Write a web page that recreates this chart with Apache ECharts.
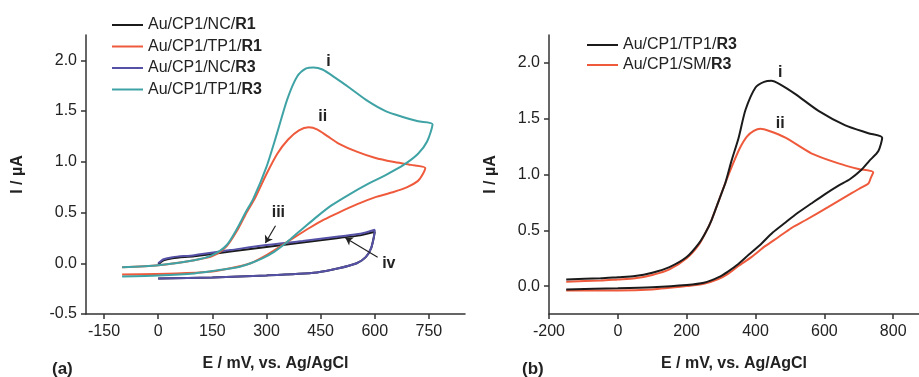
<!DOCTYPE html>
<html>
<head>
<meta charset="utf-8">
<script src="https://cdn.jsdelivr.net/npm/echarts@6/dist/echarts.min.js"></script>
<style>
  html, body { margin: 0; padding: 0; background: #fff; }
  #chart { width: 919px; height: 377px; }
</style>
</head>
<body>
<div id="chart"></div>
<script>
// ---- panel (a) ----
var aLegend = ['Au/CP1/NC/R1', 'Au/CP1/TP1/R1', 'Au/CP1/NC/R3', 'Au/CP1/TP1/R3'];
var aXTicks = [-150, 0, 150, 300, 450, 600, 750];
var aYTicks = [-0.5, 0, 0.5, 1.0, 1.5, 2.0];

// Au/CP1/NC/R1 (iii)
var ncR1E = [0, 15, 40, 100, 200, 300, 400, 500, 560, 600, 597, 590, 575, 550, 500, 440, 300, 150, 0];
var ncR1I = [-0.01, 0.03, 0.05, 0.07, 0.115, 0.16, 0.205, 0.25, 0.275, 0.31, 0.25, 0.15, 0.06, 0.0, -0.05, -0.09, -0.12, -0.14, -0.15];
// Au/CP1/TP1/R1 (ii)
var tpR1E = [-100, 0, 100, 150, 190, 220, 245, 268, 300, 330, 360, 390, 417, 440, 470, 500, 550, 600, 650, 700, 740,
             730, 719, 690, 650, 600, 550, 500, 459, 420, 375, 340, 300, 256, 200, 150, 50, -100];
var tpR1I = [-0.04, -0.02, 0.03, 0.07, 0.17, 0.33, 0.50, 0.64, 0.88, 1.08, 1.22, 1.31, 1.34, 1.32, 1.25, 1.18, 1.10, 1.04, 1.00, 0.97, 0.94,
             0.86, 0.81, 0.75, 0.70, 0.65, 0.58, 0.50, 0.43, 0.35, 0.25, 0.17, 0.08, 0.0, -0.05, -0.08, -0.10, -0.11];
// Au/CP1/NC/R3 (iv)
var ncR3E = [0, 15, 40, 100, 200, 300, 400, 500, 560, 600, 597, 590, 575, 550, 500, 440, 300, 150, 0];
var ncR3I = [0.0, 0.04, 0.06, 0.08, 0.13, 0.18, 0.22, 0.265, 0.29, 0.33, 0.25, 0.15, 0.06, 0.0, -0.05, -0.09, -0.12, -0.14, -0.15];
// Au/CP1/TP1/R3 (i)
var tpR3E = [-100, 0, 100, 150, 190, 220, 242, 264, 300, 330, 358, 385, 410, 430, 455, 490, 530, 580, 630, 680, 720, 760,
             745, 720, 680, 630, 580, 530, 480, 440, 400, 370, 347, 320, 290, 256, 220, 163, 100, 0, -100];
var tpR3I = [-0.04, -0.02, 0.03, 0.08, 0.18, 0.35, 0.50, 0.64, 0.95, 1.29, 1.62, 1.84, 1.92, 1.93, 1.91, 1.83, 1.73, 1.60, 1.50, 1.44, 1.40, 1.37,
             1.20, 1.08, 0.97, 0.87, 0.78, 0.68, 0.57, 0.46, 0.34, 0.25, 0.18, 0.11, 0.05, 0.0, -0.04, -0.07, -0.10, -0.12, -0.13];

// ---- panel (b) ----
var bLegend = ['Au/CP1/TP1/R3', 'Au/CP1/SM/R3'];
var bXTicks = [-200, 0, 200, 400, 600, 800];
var bYTicks = [0, 0.5, 1.0, 1.5, 2.0];

var bTpE = [-150, -50, 0, 50, 100, 150, 200, 235, 255, 272, 295, 313, 330, 351, 371, 400, 425, 446, 470, 516, 583, 661, 728, 768,
            757, 730, 707, 675, 641, 600, 562, 520, 487, 450, 417, 380, 351, 320, 293, 250, 200, 100, 0, -150];
var bTpI = [0.06, 0.07, 0.08, 0.09, 0.12, 0.17, 0.26, 0.38, 0.48, 0.59, 0.78, 0.93, 1.12, 1.33, 1.58, 1.78, 1.83, 1.84, 1.81, 1.72, 1.57, 1.44, 1.37, 1.33,
            1.21, 1.12, 1.04, 0.96, 0.90, 0.82, 0.74, 0.65, 0.57, 0.48, 0.38, 0.28, 0.20, 0.13, 0.08, 0.03, 0.01, -0.01, -0.02, -0.03];
var bSmE = [-150, -50, 0, 50, 100, 150, 200, 235, 255, 272, 295, 313, 335, 355, 375, 395, 414, 440, 487, 562, 641, 699, 742,
            735, 728, 700, 678, 612, 545, 504, 467, 429, 388, 350, 320, 290, 250, 200, 100, 0, -150];
var bSmI = [0.04, 0.05, 0.06, 0.07, 0.10, 0.15, 0.25, 0.37, 0.48, 0.59, 0.78, 0.93, 1.10, 1.24, 1.34, 1.39, 1.41, 1.39, 1.33, 1.19, 1.10, 1.05, 1.02,
            0.97, 0.92, 0.87, 0.83, 0.71, 0.59, 0.52, 0.44, 0.36, 0.26, 0.18, 0.11, 0.06, 0.02, 0.0, -0.03, -0.04, -0.04];

var FONT = '"Liberation Sans", Arial, sans-serif';
var INK = '#222';
var FS = 16;

function pairs(xs, ys) {
    return xs.map(function(x, i) { return [x, ys[i]]; });
}

// legend text: regular prefix, bold last part (R1 / R3)
function legendText(name) {
    var label = name.split('|')[1];
    var cut = label.lastIndexOf('/') + 1;
    return '{n|' + label.slice(0, cut) + '}{b|' + label.slice(cut) + '}';
}

function curve(panel, label, color, xs, ys, extra) {
    var s = {
        type: 'line',
        name: panel + '|' + label,
        xAxisIndex: panel == 'a' ? 0 : 1,
        yAxisIndex: panel == 'a' ? 0 : 1,
        data: pairs(xs, ys),
        symbol: 'none',
        smooth: 0.25,
        lineStyle: { color: color, width: 2 },
        itemStyle: { color: color }
    };
    if (extra) { Object.assign(s, extra); }
    return s;
}

function tag(text, x, y) {
    return {
        coord: [x, y],
        symbol: 'circle',
        symbolSize: 1,
        itemStyle: { color: 'rgba(0,0,0,0)' },
        label: { show: true, position: 'inside', formatter: text, fontFamily: FONT, fontWeight: 'bold', fontSize: FS, color: INK }
    };
}

function arrow(x1, y1, x2, y2) {
    return [{ coord: [x1, y1], symbol: 'none' }, { coord: [x2, y2], symbol: 'arrow', symbolSize: 7 }];
}

function xAxis(idx, min, max, ticks) {
    return {
        type: 'value', gridIndex: idx, min: min, max: max,
        name: 'E / mV, vs. Ag/AgCl', nameLocation: 'middle', nameGap: 42,
        nameTextStyle: { fontFamily: FONT, fontWeight: 'bold', fontSize: FS, color: INK },
        axisLine: { onZero: false, lineStyle: { color: '#333', width: 1.5 } },
        axisTick: { length: 5, lineStyle: { color: '#333', width: 1.5 }, customValues: ticks },
        axisLabel: { customValues: ticks, fontFamily: FONT, fontSize: FS, color: INK, margin: 10 },
        splitLine: { show: false }
    };
}

function yAxis(idx, min, max, ticks, gap) {
    return {
        type: 'value', gridIndex: idx, min: min, max: max,
        name: 'I / µA', nameLocation: 'middle', nameGap: gap, nameRotate: 90,
        nameTextStyle: { fontFamily: FONT, fontWeight: 'bold', fontSize: FS, color: INK },
        axisLine: { show: true, onZero: false, lineStyle: { color: '#333', width: 1.5 } },
        axisTick: { show: true, length: 5, lineStyle: { color: '#333', width: 1.5 }, customValues: ticks },
        axisLabel: {
            customValues: ticks, fontFamily: FONT, fontSize: FS, color: INK, margin: 9,
            formatter: function(v) { return v.toFixed(1); }
        },
        splitLine: { show: false }
    };
}

var richText = {
    n: { fontFamily: FONT, fontSize: FS, color: INK },
    b: { fontFamily: FONT, fontSize: FS, color: INK, fontWeight: 'bold' }
};

var chart = echarts.init(document.getElementById('chart'));
chart.setOption({
    animation: false,
    backgroundColor: '#fff',
    grid: [
        { left: 86, top: 35, width: 379, height: 279 },
        { left: 549, top: 35, width: 370, height: 279 }
    ],
    xAxis: [xAxis(0, -200, 850, aXTicks), xAxis(1, -200, 875, bXTicks)],
    yAxis: [yAxis(0, -0.5, 2.25, aYTicks, 60), yAxis(1, -0.25, 2.25, bYTicks, 50)],
    legend: [
        {
            data: aLegend.map(function(n) { return 'a|' + n; }),
            orient: 'vertical', left: 112, top: 17, padding: 0, icon: 'rect', itemWidth: 31, itemHeight: 2, itemGap: 5.5,
            formatter: legendText, textStyle: { rich: richText }
        },
        {
            data: bLegend.map(function(n) { return 'b|' + n; }),
            orient: 'vertical', left: 587, top: 37, padding: 0, icon: 'rect', itemWidth: 31, itemHeight: 2, itemGap: 4,
            formatter: legendText, textStyle: { rich: richText }
        }
    ],
    series: [
        curve('a', aLegend[0], '#1b1b1b', ncR1E, ncR1I, {
            markLine: { silent: true, lineStyle: { color: '#222', width: 1.2, type: 'solid' }, label: { show: false },
                data: [arrow(325, 0.37, 297, 0.20), arrow(608, 0.06, 519, 0.25)] },
            markPoint: { data: [tag('iii', 333, 0.50), tag('iv', 639, 0.0)] }
        }),
        curve('a', aLegend[2], '#5551a6', ncR3E, ncR3I),
        curve('a', aLegend[1], '#ee5a3b', tpR1E, tpR1I, {
            markPoint: { data: [tag('ii', 456, 1.45)] }
        }),
        curve('a', aLegend[3], '#3fa3a5', tpR3E, tpR3I, {
            markPoint: { data: [tag('i', 472, 1.99)] }
        }),
        curve('b', bLegend[1], '#ee5a3b', bSmE, bSmI, {
            markPoint: { data: [tag('ii', 472, 1.46)] }
        }),
        curve('b', bLegend[0], '#1b1b1b', bTpE, bTpI, {
            markPoint: { data: [tag('i', 472, 1.91)] }
        })
    ],
    graphic: [
        { type: 'text', left: 52, top: 361, style: { text: '(a)', font: 'bold 17px ' + FONT, fill: INK } },
        { type: 'text', left: 522, top: 361, style: { text: '(b)', font: 'bold 17px ' + FONT, fill: INK } }
    ]
});
</script>
</body>
</html>
